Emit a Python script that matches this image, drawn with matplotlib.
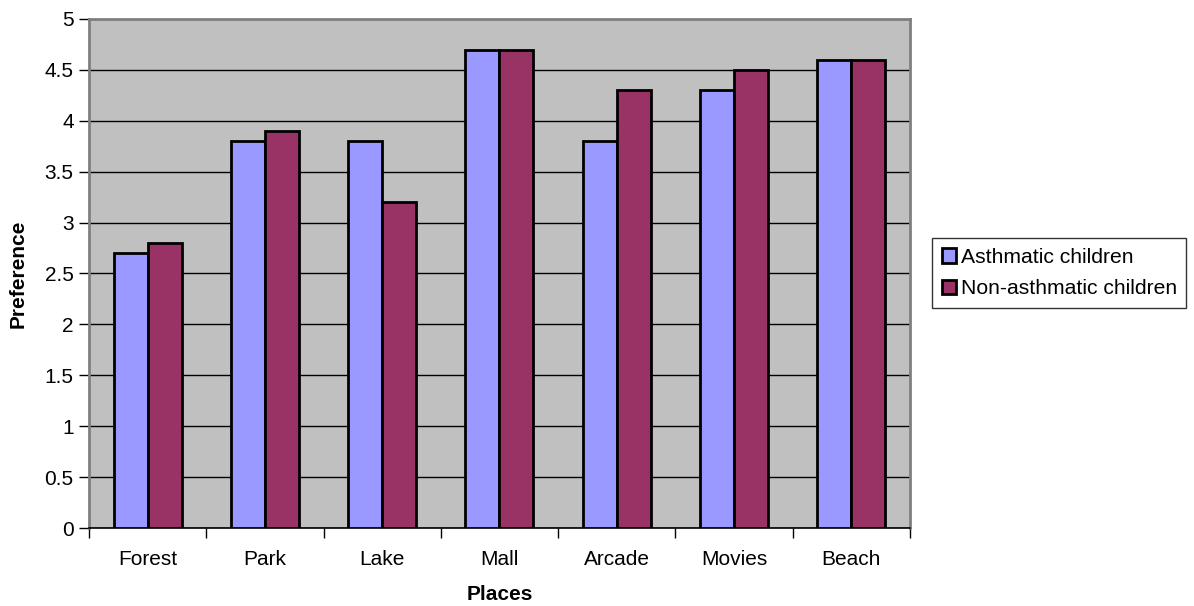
import numpy as np
import matplotlib.pyplot as plt

plt.rcParams['font.family'] = ['Liberation Sans', 'DejaVu Sans']

places = ["Forest", "Park", "Lake", "Mall", "Arcade", "Movies", "Beach"]
asthmatic = [2.7, 3.8, 3.8, 4.7, 3.8, 4.3, 4.6]
non_asthmatic = [2.8, 3.9, 3.2, 4.7, 4.3, 4.5, 4.6]

fig = plt.figure(figsize=(11.94, 6.06), dpi=100)
ax = fig.add_axes([0.0745, 0.1287, 0.6876, 0.8400])
ax.set_facecolor('#C0C0C0')

x = np.arange(len(places))
w = 0.29
ax.bar(x - w / 2, asthmatic, w, color='#9999FF', edgecolor='black', linewidth=2,
       label='Asthmatic children', zorder=3)
ax.bar(x + w / 2, non_asthmatic, w, color='#993366', edgecolor='black', linewidth=2,
       label='Non-asthmatic children', zorder=3)

ax.set_xlim(-0.5, len(places) - 0.5)
ax.set_ylim(0, 5)
ax.set_yticks(np.arange(0, 5.01, 0.5))
ax.set_yticklabels(['0', '0.5', '1', '1.5', '2', '2.5', '3', '3.5', '4', '4.5', '5'])
ax.yaxis.grid(True, color='black', linewidth=1, zorder=1)
ax.set_axisbelow(True)

# category labels centred, tick marks between categories
ax.set_xticks(x)
ax.set_xticklabels(places)
ax.tick_params(axis='x', length=0, labelsize=15, pad=16)
ax.set_xticks(np.arange(-0.5, len(places)), minor=True)
ax.tick_params(axis='x', which='minor', length=7, width=1, direction='out')
ax.tick_params(axis='y', length=7, width=1, labelsize=15, pad=4)

for side in ['top', 'right', 'left']:
    ax.spines[side].set_color('#808080')
    ax.spines[side].set_linewidth(2)
ax.spines['bottom'].set_color('black')
ax.spines['bottom'].set_linewidth(1.2)

ax.set_xlabel('Places', fontsize=15, fontweight='bold', labelpad=11)
ax.set_ylabel('Preference', fontsize=15, fontweight='bold', labelpad=12)

leg = ax.legend(loc='center left', bbox_to_anchor=(1.027, 0.501), fontsize=15.2,
                frameon=True, fancybox=False, edgecolor='black',
                handlelength=0.7, handleheight=0.7, handletextpad=0.2,
                borderpad=0.45, labelspacing=0.6, borderaxespad=0)
leg.get_frame().set_linewidth(1)

fig.savefig('out.png', dpi=100)
